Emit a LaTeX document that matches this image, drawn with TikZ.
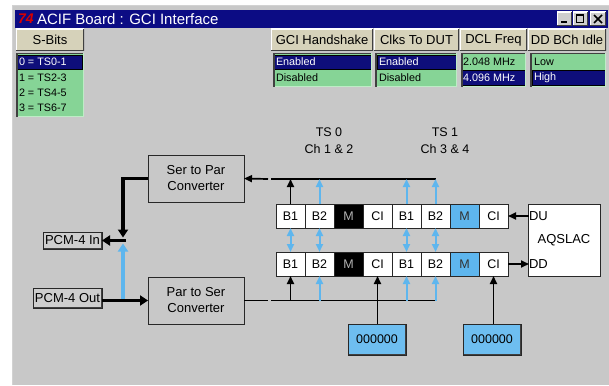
\documentclass[tikz,border=0pt]{standalone}
\usepackage{fontspec}
\setmainfont{Liberation Sans}
\usetikzlibrary{arrows.meta}

\newcommand\fsz[1]{\fontsize{#1}{#1}\selectfont}

\definecolor{panel}{RGB}{200,200,200}
\definecolor{titlebar}{RGB}{12,12,132}
\definecolor{selnavy}{RGB}{14,14,122}
\definecolor{listgreen}{RGB}{134,212,150}
\definecolor{listlight}{RGB}{190,236,198}
\definecolor{skyblue}{RGB}{94,182,238}
\definecolor{regblue}{RGB}{110,190,240}
\definecolor{btnface}{RGB}{214,210,186}
\definecolor{winface}{RGB}{206,206,206}
\definecolor{pcmface}{RGB}{206,206,206}
\definecolor{darkedge}{RGB}{64,64,64}
\definecolor{lineink}{RGB}{40,40,40}

\begin{document}
\begin{tikzpicture}[x=1pt,y=-1pt,
  every node/.style={inner sep=0pt,outer sep=0pt},
  raised/.style={anchor=north west, path picture={
      \draw[white,line width=2pt] (path picture bounding box.south west) -- (path picture bounding box.north west) -- (path picture bounding box.north east);
      \draw[darkedge,line width=2pt] (path picture bounding box.north east) -- (path picture bounding box.south east) -- (path picture bounding box.south west);}},
  tabbtn/.style={raised, fill=btnface, font=\fsz{13}, minimum height=22pt},
  listbox/.style={anchor=north west, fill=listgreen, minimum height=34pt},
  selrow/.style={anchor=north west, fill=selnavy, draw=black, line width=0.8pt},
  listitem/.style={anchor=west, font=\fsz{10.8}, text=black},
  selitem/.style={anchor=west, font=\fsz{10.8}, text=white},
  winbtn/.style={raised, fill=winface, minimum width=15pt, minimum height=14pt},
  conv/.style={anchor=north west, draw=lineink, line width=1pt, fill=panel, align=center,
      font={\fontsize{13}{16}\selectfont}, minimum width=96pt, minimum height=47pt},
  pcm/.style={raised, fill=pcmface, draw=lineink, line width=0.6pt, font=\fsz{13}},
  cell/.style={anchor=north west, draw=lineink, line width=1pt, fill=white,
      minimum width=29pt, minimum height=24pt, font=\fsz{12.5}},
  plaincell/.style={},
  mdark/.style={fill=black, text=gray!60},
  mblue/.style={fill=skyblue, text=black!80},
  reg/.style={raised, fill=regblue, draw=lineink, line width=0.6pt,
      minimum width=58pt, minimum height=31pt, font=\fsz{12.5}},
  wire/.style={line width=1.7pt, black},
  wireblue/.style={line width=2pt, skyblue},
  arrowend/.style={-{Triangle[length=8pt,width=7pt]}},
  bothtips/.style={{Triangle[length=8pt,width=7pt]}-{Triangle[length=8pt,width=7pt]}},
  fat/.style={line width=3.8pt, black},
  fatblue/.style={line width=3.8pt, skyblue},
  fattip/.style={-{Triangle[length=8pt,width=10pt]}},
  tslabel/.style={font={\fontsize{12.5}{17}\selectfont}, align=center}
]
\useasboundingbox (0,0) rectangle (609,385);

% window frame and title bar
\fill[white] (0,0) rectangle (609,385);
\fill[panel] (12,5) rectangle (609,385);
\draw[gray!35,line width=1pt] (12.5,385) -- (12.5,5.5) -- (609,5.5);
\fill[titlebar] (15,10) rectangle (608,28);
\node[anchor=west, text=red!85!black, font=\fsz{14}\bfseries\itshape] (logo) at (18,19) {74};
\node[anchor=west, text=white, font=\fsz{15}] (title) at (37,19) {ACIF Board : GCI Interface};

% caption buttons
\node[winbtn] (wmin) at (557,12) {};
\node[winbtn] (wmax) at (573,12) {};
\node[winbtn, minimum width=16pt] (wcls) at (590,12) {};
\draw[line width=2pt] ([xshift=4pt,yshift=4pt]wmin.south west) -- ([xshift=-5pt,yshift=4pt]wmin.south east);
\draw[line width=1pt] ([xshift=3.5pt,yshift=-3pt]wmax.north west) rectangle ([xshift=-4.5pt,yshift=3.5pt]wmax.south east);
\draw[line width=2pt] ([xshift=3.5pt,yshift=-3pt]wmax.north west) -- ([xshift=-4.5pt,yshift=-3pt]wmax.north east);
\draw[line width=1.5pt] ([xshift=4pt,yshift=-3pt]wcls.north west) -- ([xshift=-4pt,yshift=3pt]wcls.south east);
\draw[line width=1.5pt] ([xshift=4pt,yshift=3pt]wcls.south west) -- ([xshift=-4pt,yshift=-3pt]wcls.north east);

% S-Bits selector
\node[tabbtn, minimum width=68pt] (sbits) at (16,29) {S-Bits};
\node[listbox, minimum width=68pt, minimum height=64pt] (sbitslist) at (16,53) {};
\node[selrow, minimum width=65pt, minimum height=14pt] (sbsel) at (17,55) {};
\node[selitem] (sb0) at (19,62) {0 = TS0-1};
\node[listitem] (sb1) at (19,78) {1 = TS2-3};
\node[listitem] (sb2) at (19,93) {2 = TS4-5};
\node[listitem] (sb3) at (19,108) {3 = TS6-7};

% option headers
\node[tabbtn, minimum width=102pt] (gci) at (271,29) {GCI Handshake};
\node[tabbtn, minimum width=85pt] (clk) at (374,29) {Clks To DUT};
\node[tabbtn, minimum width=67pt] (dcl) at (460,29) {DCL Freq};
\node[tabbtn, minimum width=78pt] (bch) at (528,29) {DD BCh Idle};

% option lists
\node[listbox, minimum width=99pt] (gcilist) at (273,53) {};
\node[selrow, minimum width=97pt, minimum height=14pt] (gcisel) at (274,55) {};
\node[selitem] (gci0) at (276,62) {Enabled};
\node[listitem] (gci1) at (276,78) {Disabled};

\node[listbox, minimum width=82pt] (clklist) at (375,53) {};
\node[selrow, minimum width=79pt, minimum height=14pt] (clksel) at (377,55) {};
\node[selitem] (clk0) at (379,62) {Enabled};
\node[listitem] (clk1) at (379,78) {Disabled};

\node[listbox, minimum width=65pt] (dcllist) at (461,53) {};
\node[selrow, minimum width=63pt, minimum height=15pt] (dclsel) at (462,70) {};
\node[listitem] (dcl0) at (463,62) {2.048 MHz};
\node[selitem] (dcl1) at (463,78) {4.096 MHz};

\node[listbox, minimum width=76pt] (bchlist) at (530,53) {};
\node[selrow, minimum width=73pt, minimum height=15pt] (bchsel) at (532,70) {};
\node[listitem] (bch0) at (534,62) {Low};
\node[selitem] (bch1) at (534,78) {High};

% sunken edges of the lists
\foreach \lst in {sbitslist,gcilist,clklist,dcllist,bchlist}{
  \draw[darkedge,line width=1.5pt] ([xshift=0.75pt]\lst.south west) -- ([xshift=0.75pt,yshift=-0.75pt]\lst.north west) -- ([yshift=-0.75pt]\lst.north east);
  \draw[listlight,line width=1pt] ([xshift=-0.5pt]\lst.north east) -- ([xshift=-0.5pt,yshift=0.5pt]\lst.south east) -- ([xshift=1.5pt,yshift=0.5pt]\lst.south west);
}

% converters and PCM ports
\node[conv] (s2p) at (148,155) {Ser to Par\\Converter};
\node[conv] (p2s) at (148,277) {Par to Ser\\Converter};
\node[pcm, minimum width=59pt, minimum height=17pt] (pcmin) at (43,232) {PCM-4 In};
\node[pcm, minimum width=69pt, minimum height=20pt] (pcmout) at (33,288) {PCM-4 Out};

% time slot labels
\node[tslabel] (ts0) at (329,141) {TS 0\\Ch 1 \& 2};
\node[tslabel] (ts1) at (445,141) {TS 1\\Ch 3 \& 4};

% GCI frames: upstream (top) and downstream (bottom)
\foreach \lab/\sty [count=\i] in {B1/plaincell,B2/plaincell,M/mdark,CI/plaincell,B1/plaincell,B2/plaincell,M/mblue,CI/plaincell}{
  \node[cell,\sty] (t\i) at ({276+29*(\i-1)},204) {\lab};
  \node[cell,\sty] (b\i) at ({276+29*(\i-1)},252) {\lab};
}

% AQSLAC device
\node[anchor=north west, draw=lineink, line width=1pt, fill=white, minimum width=72pt, minimum height=72pt] (slac) at (528,204) {};
\node[font=\fsz{13}] (slacname) at (slac.center) {AQSLAC};
\node[anchor=west, font=\fsz{13}] (du) at (529,216) {DU};
\node[anchor=west, font=\fsz{13}] (dd) at (529,264) {DD};
\draw[wire,arrowend] (du.west) -- (t8.east);
\draw[wire,arrowend] (b8.east) -- (dd.west);

% upstream bus into the serial-to-parallel converter
\coordinate (tb) at (0,179);
\coordinate (gtL) at (268,179);
\coordinate (gtR) at (271,179);
\draw[wire] (t6 |- tb) -- (gtR);
\draw[wire,arrowend] (gtL) -- (s2p.east);
\draw[wire,arrowend] (t1.north) -- (t1 |- tb);
\foreach \i in {2,5,6} \draw[wireblue,arrowend] (t\i.north) -- (t\i |- tb);
\foreach \i in {1,2,5,6} \draw[wireblue,bothtips] (t\i.south) -- (b\i.north);

% downstream bus from the parallel-to-serial converter
\coordinate (gbL) at (268,300);
\coordinate (gbR) at (271,300);
\draw[wire] (p2s.east) -- (gbL |- p2s.east);
\draw[wire] (gbR |- p2s.east) -- (b6 |- p2s.east);
\draw[wire,arrowend] (b1 |- p2s.east) -- (b1.south);
\foreach \i in {2,5,6} \draw[wireblue,arrowend] (b\i |- p2s.east) -- (b\i.south);

% C/I registers
\node[reg] (reg0) at (348,324) {000000};
\node[reg] (reg1) at (463,324) {000000};
\draw[wire,arrowend] (b4.south |- reg0.north) -- (b4.south);
\draw[wire,arrowend] (b8.south |- reg1.north) -- (b8.south);

% PCM side
\path (pcmin.east) ++(21,0) coordinate (jn);
\draw[fatblue,fattip] (jn |- p2s.west) -- ([yshift=-3pt]jn);
\draw[fat,fattip] (s2p.west) -| ([yshift=3pt]jn);
\draw[fat,fattip] ([xshift=3pt]jn) -- (pcmin.east);
\draw[fat,fattip] (pcmout.east |- p2s.west) -- (p2s.west);
\end{tikzpicture}
\end{document}
